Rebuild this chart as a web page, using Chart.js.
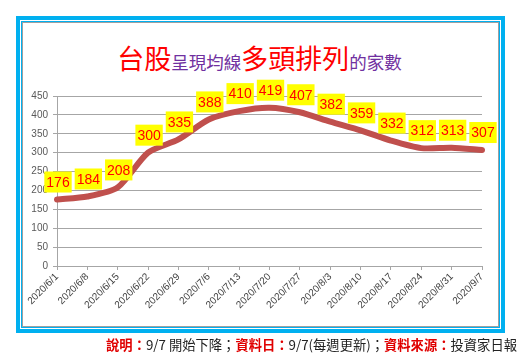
<!DOCTYPE html>
<html><head><meta charset="utf-8">
<script src="https://cdn.jsdelivr.net/npm/chart.js@4/dist/chart.umd.min.js"></script>
<style>
html,body{margin:0;padding:0;background:#fff;}
#wrap{position:relative;width:527px;height:359px;overflow:hidden;}
#box{position:absolute;left:16px;top:16px;width:481px;height:309px;border:4px solid #00B0F0;}
#inner{position:absolute;left:1px;top:1px;right:1px;bottom:1px;border:1px solid #00B0F0;box-shadow:inset 1px 1px 0 #a0a0a0, inset -1px -1px 0 #a0a0a0;}
#title{position:absolute;left:0;width:519px;top:38px;text-align:center;font-family:"Noto Sans CJK TC";white-space:nowrap;line-height:40px;}
.big{color:#FF0000;font-size:27px;}
.sm{color:#7030A0;font-size:17.5px;}
#foot{position:absolute;right:10px;top:336px;font-family:"Noto Sans CJK TC";font-size:13.3px;line-height:18px;color:#222;white-space:nowrap;}
#foot b{color:#E00000;}
canvas{position:absolute;left:0;top:0;}
</style></head>
<body><div id="wrap">
<div id="box"><div id="inner"></div></div>
<div id="title"><span class="big">台股</span><span class="sm">呈現均線</span><span class="big">多頭排列</span><span class="sm">的家數</span></div>
<canvas id="c" width="527" height="359"></canvas>
<div id="foot"><b>說明：</b>9/7 開始下降；<b>資料日：</b>9/7(每週更新)；<b>資料來源：</b>投資家日報</div>
</div>
<script>
const categories = ["2020/6/1","2020/6/8","2020/6/15","2020/6/22","2020/6/29","2020/7/6","2020/7/13","2020/7/20","2020/7/27","2020/8/3","2020/8/10","2020/8/17","2020/8/24","2020/8/31","2020/9/7"];
const counts = [176,184,208,300,335,388,410,419,407,382,359,332,312,313,307];
const yTicks = [0,50,100,150,200,250,300,350,400,450];

const labelPlugin = {
  id:'boxLabels',
  afterDatasetsDraw(chart){
    const ctx = chart.ctx;
    const meta = chart.getDatasetMeta(0);
    ctx.save();
    ctx.font = '14px "Liberation Sans"';
    ctx.textAlign='center';ctx.textBaseline='middle';
    meta.data.forEach((pt,i)=>{
      const t = String(counts[i]);
      const w = ctx.measureText(t).width + 4;
      const h = 21;
      const cx = pt.x + 1, cy = pt.y - 17.5;
      ctx.fillStyle='#FFFF00';
      ctx.fillRect(cx-w/2, cy-h/2, w, h);
      ctx.fillStyle='#FF0000';
      ctx.fillText(t, cx, cy+1);
    });
    ctx.restore();
  }
};

new Chart(document.getElementById('c'),{
  type:'line',
  data:{labels:categories,datasets:[{data:counts,borderColor:'#C0504D',borderWidth:6,pointRadius:0,tension:0.25,fill:false,borderCapStyle:'round'}]},
  options:{
    responsive:false,animation:false,
    layout:{padding:{left:20,top:96,right:45,bottom:30}},
    plugins:{legend:{display:false},tooltip:{enabled:false}},
    scales:{
      x:{offset:false,
        grid:{display:true,drawOnChartArea:false,drawTicks:true,tickLength:4,color:'#a6a6a6'},
        border:{color:'#a6a6a6'},
        ticks:{autoSkip:false,maxRotation:45,minRotation:45,padding:1,color:'#404040',font:{family:'Liberation Sans',size:10}},
        afterFit(s){s.height=63;}
      },
      y:{min:0,max:450,
        afterBuildTicks(s){s.ticks=yTicks.map(v=>({value:v}));},
        grid:{color:'#a6a6a6',tickLength:4,lineWidth:1},
        border:{color:'#a6a6a6'},
        ticks:{padding:5,color:'#595959',font:{family:'Liberation Sans',size:10}},
        afterFit(s){s.width=37;}
      }
    }
  },
  plugins:[labelPlugin]
});
</script>
</body></html>
